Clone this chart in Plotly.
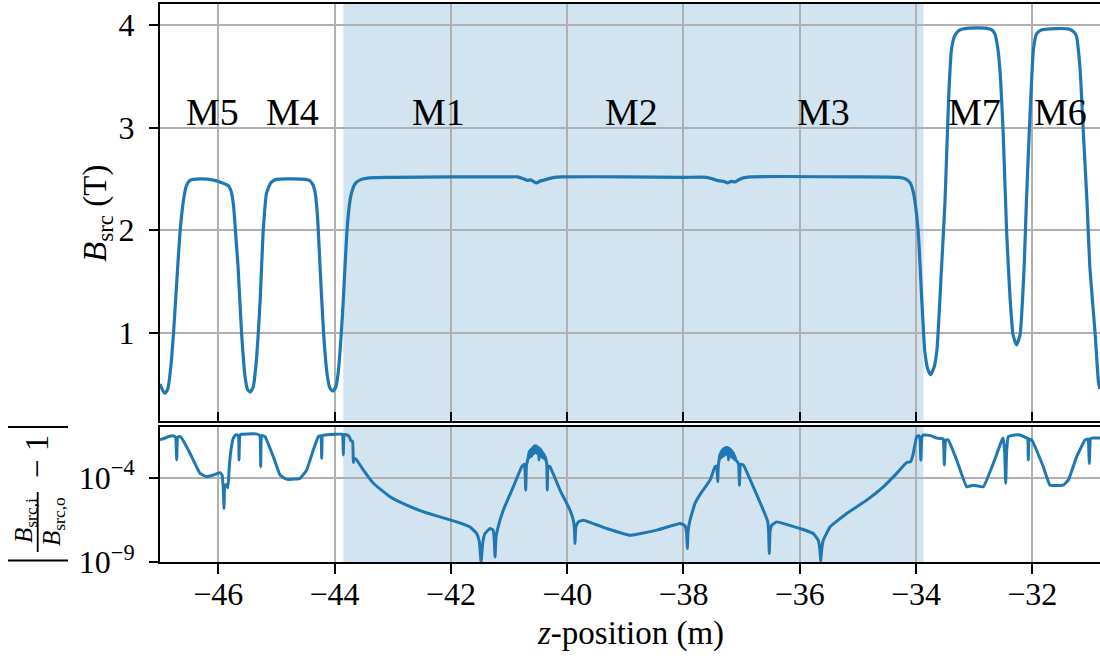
import numpy as np
import plotly.graph_objects as go

# ---------------- data ----------------
field_z = [-47.003, -46.95, -46.916, -46.87, -46.82, -46.77, -46.72, -46.66, -46.60, -46.55,
           -46.50, -46.43, -46.30, -46.10, -45.95, -45.82, -45.78, -45.74, -45.70, -45.66,
           -45.60, -45.54, -45.50, -45.45, -45.40, -45.35, -45.28, -45.23, -45.17, -45.10,
           -45.00, -44.80, -44.50, -44.42, -44.37, -44.33, -44.29, -44.25, -44.19, -44.13,
           -44.08, -44.03, -43.98, -43.94, -43.89, -43.85, -43.79, -43.74, -43.71, -43.65,
           -43.56, -43.40, -43.00, -42.00, -41.00, -40.85, -40.75, -40.68, -40.63, -40.58,
           -40.53, -40.48, -40.42, -40.33, -40.22, -40.10, -39.00, -38.00, -37.60, -37.50,
           -37.42, -37.36, -37.30, -37.24, -37.18, -37.12, -37.05, -36.97, -36.85, -35.00,
           -34.30, -34.18, -34.10, -34.05, -34.02, -33.96, -33.90, -33.85, -33.80, -33.75,
           -33.69, -33.64, -33.56, -33.50, -33.44, -33.39, -33.33, -33.25, -33.10, -32.80,
           -32.69, -32.64, -32.60, -32.56, -32.50, -32.44, -32.38, -32.33, -32.27, -32.21,
           -32.14, -32.10, -32.04, -31.98, -31.93, -31.85, -31.60, -31.37, -31.28, -31.24,
           -31.18, -31.12, -31.06, -31.01, -30.92, -30.86, -30.835]
field_b = [0.50, 0.43, 0.41, 0.45, 0.65, 1.00, 1.45, 1.97, 2.29, 2.43,
           2.48, 2.495, 2.50, 2.49, 2.465, 2.43, 2.38, 2.25, 1.95, 1.64,
           1.00, 0.57, 0.45, 0.42, 0.47, 0.70, 1.32, 1.97, 2.36, 2.46,
           2.495, 2.50, 2.495, 2.48, 2.44, 2.35, 2.10, 1.64, 1.00, 0.60,
           0.46, 0.43, 0.47, 0.60, 0.95, 1.32, 1.97, 2.27, 2.36, 2.45,
           2.49, 2.51, 2.515, 2.52, 2.52, 2.52, 2.50, 2.485, 2.49, 2.475,
           2.46, 2.475, 2.485, 2.50, 2.515, 2.52, 2.52, 2.515, 2.515, 2.50,
           2.485, 2.48, 2.475, 2.46, 2.475, 2.47, 2.49, 2.51, 2.52, 2.52,
           2.515, 2.50, 2.46, 2.38, 2.29, 1.97, 1.32, 0.83, 0.65, 0.59,
           0.66, 0.83, 1.64, 2.29, 3.27, 3.76, 3.90, 3.95, 3.97, 3.97,
           3.95, 3.91, 3.80, 3.59, 2.94, 1.97, 1.32, 0.98, 0.88, 0.98,
           1.64, 2.29, 3.11, 3.76, 3.91, 3.95, 3.965, 3.96, 3.93, 3.89,
           3.59, 2.94, 2.29, 1.64, 1.00, 0.51, 0.45]

# relative deviation |B_i/B_o - 1|, stored as log10 values
dev_z = [-47.003, -46.85, -46.774, -46.735, -46.716, -46.70, -46.659, -46.63, -46.487, -46.315,
         -46.2, -46.086, -45.971, -45.935, -45.915, -45.902, -45.89, -45.86, -45.835, -45.81,
         -45.78, -45.742, -45.70, -45.655, -45.644, -45.63, -45.6, -45.5, -45.35, -45.285,
         -45.271, -45.257, -45.197, -45.054, -44.939, -44.85, -44.767, -44.595, -44.48, -44.366,
         -44.28, -44.235, -44.222, -44.208, -44.165, -44.0, -43.878, -43.862, -43.85, -43.836,
         -43.80, -43.75, -43.72, -43.69, -43.678, -43.665, -43.62, -43.506, -43.334, -43.047,
         -42.76, -42.474, -42.187, -41.9, -41.671, -41.556, -41.51, -41.481, -41.45, -41.413,
         -41.327, -41.275, -41.255, -41.24, -41.225, -41.201, -41.098, -40.926, -40.782, -40.74,
         -40.725, -40.713, -40.70, -40.668,
         -40.655, -40.645, -40.635, -40.625, -40.615, -40.605, -40.595, -40.585, -40.575, -40.565,
         -40.555, -40.545, -40.535, -40.525, -40.515, -40.505, -40.495, -40.485, -40.475, -40.465,
         -40.455, -40.445, -40.435, -40.425, -40.415, -40.405, -40.395, -40.385, -40.375, -40.36,
         -40.35, -40.341, -40.33, -40.295, -40.123, -39.951, -39.894, -39.875, -39.865, -39.85,
         -39.808, -39.722, -39.32, -38.919, -38.46, -38.059, -37.973, -37.945, -37.933, -37.92,
         -37.887, -37.801, -37.715, -37.543, -37.457, -37.43, -37.42, -37.41, -37.40, -37.385,
         -37.375, -37.365, -37.355, -37.345, -37.335, -37.325, -37.315, -37.305, -37.295, -37.285,
         -37.275, -37.265, -37.255, -37.245, -37.235, -37.225, -37.215, -37.205, -37.195, -37.185,
         -37.175, -37.165, -37.155, -37.145, -37.135, -37.125, -37.115, -37.10, -37.085, -37.065,
         -37.05, -37.036, -37.02, -36.97, -36.798, -36.626, -36.55, -36.535, -36.523, -36.51,
         -36.482, -36.396, -35.995, -35.766, -35.68, -35.655, -35.639, -35.62, -35.594, -35.479,
         -35.192, -34.848, -34.562, -34.332, -34.16, -34.091, -34.046, -33.988, -33.95, -33.93,
         -33.916, -33.9, -33.874, -33.75, -33.644, -33.535, -33.513, -33.49, -33.444, -33.3,
         -33.128, -33.014, -32.842, -32.67, -32.52, -32.498, -32.475, -32.457, -32.44, -32.412,
         -32.3, -32.211, -32.12, -32.08, -32.068, -32.055, -32.01, -31.81, -31.695, -31.466,
         -31.38, -31.236, -31.093, -31.04, -31.02, -31.0, -30.978, -30.835]
dev_log10 = [-1.76, -1.55, -1.52, -1.6, -2.95, -1.6, -1.55, -1.65, -2.55, -3.74,
             -3.94, -3.84, -3.7, -3.85, -4.6, -5.82, -4.5, -4.4, -4.6, -3.3,
             -2.3, -1.65, -1.45, -1.5, -2.95, -1.5, -1.42, -1.4, -1.4, -1.5,
             -3.35, -1.5, -1.56, -2.75, -3.84, -4.05, -4.1, -4.04, -3.54, -2.35,
             -1.56, -1.5, -2.85, -1.5, -1.46, -1.42, -1.42, -1.45, -2.65, -1.45,
             -1.45, -1.55, -1.8, -1.85, -3.1, -2.85, -2.95, -3.54, -4.33, -5.13,
             -5.63, -6.02, -6.32, -6.62, -6.92, -7.31, -7.8, -9.0, -7.8, -7.31,
             -7.01, -7.1, -7.6, -8.7, -7.6, -7.11, -5.92, -4.54, -3.35, -3.2,
             -3.5, -4.73, -3.3, -2.75,
             -2.45, -2.8, -2.35, -2.75, -2.3, -2.7, -2.2, -2.6, -2.15, -2.55,
             -2.1, -2.5, -2.1, -2.55, -2.15, -2.6, -2.2, -2.95, -2.25, -2.7,
             -2.3, -2.75, -2.4, -2.8, -2.5, -2.85, -2.6, -2.9, -2.75, -3.0,
             -3.2, -4.73, -3.3, -3.35, -4.73, -5.92, -6.52, -7.0, -7.9, -6.9,
             -6.62, -6.52, -7.01, -7.41, -7.11, -6.71, -6.85, -7.3, -8.2, -7.2,
             -6.52, -5.52, -5.0, -4.14, -3.35, -3.3, -3.6, -4.24, -3.3, -2.9,
             -2.6, -2.85, -2.45, -2.8, -2.35, -2.75, -2.3, -2.7, -2.25, -2.65,
             -2.2, -2.6, -2.2, -2.6, -2.2, -2.95, -2.25, -2.7, -2.3, -2.75,
             -2.35, -2.8, -2.45, -2.85, -2.55, -2.9, -2.7, -2.95, -3.0, -3.1,
             -3.2, -4.44, -3.2, -3.24, -4.54, -5.92, -6.6, -7.2, -8.5, -7.2,
             -6.82, -6.62, -7.01, -7.31, -7.71, -8.2, -9.0, -8.2, -7.71, -6.92,
             -6.12, -5.33, -4.54, -3.74, -3.1, -3.04, -2.55, -1.56, -1.5, -1.7,
             -2.95, -1.6, -1.46, -1.5, -1.65, -1.7, -3.24, -1.75, -1.76, -2.95,
             -4.54, -4.44, -4.54, -3.15, -1.75, -1.65, -2.5, -4.33, -2.4, -1.56,
             -1.46, -1.46, -1.6, -1.65, -2.95, -1.7, -1.76, -3.35, -4.44, -4.44,
             -4.14, -2.75, -1.76, -1.7, -3.15, -1.7, -1.65, -1.65]

assert len(field_z) == len(field_b), (len(field_z), len(field_b))
assert len(dev_z) == len(dev_log10), (len(dev_z), len(dev_log10))

magnet_names = ["M5", "M4", "M1", "M2", "M3", "M7", "M6"]
magnet_centers = [-46.10, -44.72, -42.22, -38.90, -35.59, -33.00, -31.51]
label_height = 3.0

shade_start, shade_end = -43.85, -33.87
x_ticks = [-46, -44, -42, -40, -38, -36, -34, -32]
x_range = [-47.003, -30.835]
b_ticks = [1, 2, 3, 4]
b_range = [0.144, 4.205]
dev_ticks = [1e-4, 1e-9]
dev_ticktext = ["10<sup>\u22124</sup>", "10<sup>\u22129</sup>"]
dev_log_range = [-9.0, -0.99]

# ---------------- style ----------------
FONT = "Liberation Serif, DejaVu Serif, serif"
C0 = "#1f77b4"
GRID = "#b0b0b0"
W, H = 1100, 658
ML, MR, MT, MB = 160, 0, 4, 96
PW, PH = W - ML - MR, H - MT - MB


def px_x(px):
    return (px - ML) / PW


def px_y(py):
    return (H - MB - py) / PH


fig = go.Figure()
fig.add_trace(go.Scatter(x=field_z, y=field_b, mode="lines",
                         line=dict(color=C0, width=3.2, shape="spline", smoothing=0.5),
                         xaxis="x", yaxis="y", showlegend=False, hoverinfo="skip"))
fig.add_trace(go.Scatter(x=dev_z, y=np.power(10.0, dev_log10), mode="lines",
                         line=dict(color=C0, width=3.0, shape="spline", smoothing=0.3),
                         xaxis="x2", yaxis="y2", showlegend=False, hoverinfo="skip"))

shade = "rgba(31,119,180,0.2)"
for xr, yr in (("x", "y"), ("x2", "y2")):
    fig.add_shape(type="rect", xref=xr, yref=f"{yr} domain", x0=shade_start, x1=shade_end,
                  y0=0, y1=1, fillcolor=shade, line=dict(width=0), layer="below")

axis_common = dict(showgrid=True, gridcolor=GRID, gridwidth=1.6, zeroline=False,
                   showline=True, linecolor="black", linewidth=2,
                   tickcolor="black", tickwidth=1.6,
                   tickfont=dict(family=FONT, size=32, color="black"))

top_dom = [px_y(420.5), 1.0]
bot_dom = [0.0, px_y(427)]

fig.update_layout(
    width=W, height=H, margin=dict(l=ML, r=MR, t=MT, b=MB),
    plot_bgcolor="white", paper_bgcolor="white",
    font=dict(family=FONT, size=32, color="black"),
    xaxis=dict(axis_common, range=x_range, tickvals=x_ticks, showticklabels=False,
               ticks="inside", ticklen=9, mirror=True, anchor="y", matches="x2"),
    yaxis=dict(axis_common, range=b_range, tickvals=b_ticks, ticks="outside", ticklen=9,
               domain=top_dom, anchor="x", ticklabelstandoff=8),
    xaxis2=dict(axis_common, range=x_range, tickvals=x_ticks,
                ticktext=[f"\u2212{abs(t)}" for t in x_ticks],
                ticks="outside", ticklen=10, mirror=True, anchor="y2", ticklabelstandoff=-7),
    yaxis2=dict(axis_common, type="log", range=dev_log_range, tickvals=dev_ticks,
                ticktext=dev_ticktext, ticks="outside", ticklen=9,
                domain=bot_dom, anchor="x2", ticklabelstandoff=8),
)

ann = []
for name, zc in zip(magnet_names, magnet_centers):
    ann.append(dict(x=zc, y=label_height, xref="x", yref="y", text=name, showarrow=False,
                    xanchor="center", yanchor="bottom", yshift=-7,
                    font=dict(family=FONT, size=38, color="black")))

# axis labels
ann.append(dict(x=px_x(97), y=px_y(213), xref="paper", yref="paper",
                text="<i>B</i><sub>src</sub> (T)", textangle=-90, showarrow=False,
                xanchor="center", yanchor="middle", font=dict(family=FONT, size=33)))
ann.append(dict(x=0.5, y=px_y(633), xref="paper", yref="paper",
                text="<i>z</i>-position (m)", showarrow=False,
                xanchor="center", yanchor="middle", font=dict(family=FONT, size=33)))
ann.append(dict(x=px_x(25), y=px_y(521), xref="paper", yref="paper",
                text="<i>B</i><sub>src,i</sub>", textangle=-90, showarrow=False,
                xanchor="center", yanchor="middle", font=dict(family=FONT, size=25)))
ann.append(dict(x=px_x(53), y=px_y(522), xref="paper", yref="paper",
                text="<i>B</i><sub>src,o</sub>", textangle=-90, showarrow=False,
                xanchor="center", yanchor="middle", font=dict(family=FONT, size=25)))
ann.append(dict(x=px_x(37), y=px_y(457), xref="paper", yref="paper",
                text="\u2212 1", textangle=-90, showarrow=False,
                xanchor="center", yanchor="middle", font=dict(family=FONT, size=33)))
fig.update_layout(annotations=ann)

# fraction bar and absolute-value bars of the lower y label
for (x0, y0, x1, y1, w) in [(37.7, 492, 37.7, 552, 1.8), (8, 427, 68, 427, 1.8), (8, 560.5, 68, 560.5, 1.8)]:
    fig.add_shape(type="line", xref="paper", yref="paper",
                  x0=px_x(x0), x1=px_x(x1), y0=px_y(y0), y1=px_y(y1),
                  line=dict(color="black", width=w))

fig.write_html("out.html")
